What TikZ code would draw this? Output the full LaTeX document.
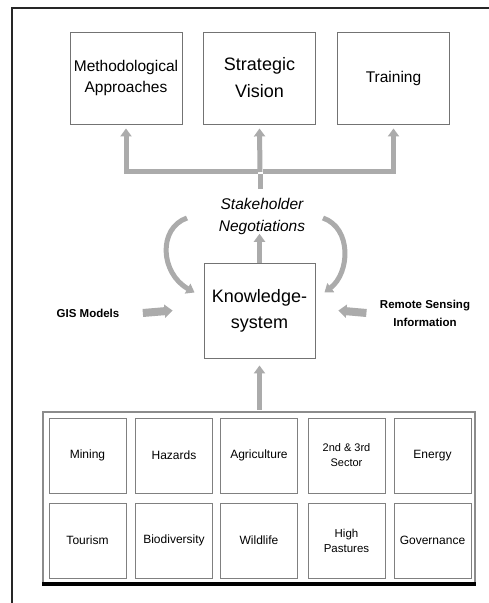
\documentclass[tikz,border=0pt]{standalone}
\usepackage{fontspec}
\setmainfont{Liberation Sans}
\usetikzlibrary{arrows.meta}

\tikzset{
  topbox/.style={draw=black!55, line width=0.9pt, minimum width=112pt, minimum height=92pt, align=center, inner sep=0pt},
  sectorbox/.style={draw=black!50, line width=0.9pt, minimum width=77pt, minimum height=75pt, align=center, inner sep=0pt, font=\fontsize{12}{15}\selectfont},
  flow/.style={draw=black!33, line width=5pt, -{Triangle[width=11pt,length=8pt]}},
  fatflow/.style={draw=black!33, line width=8pt, -{Triangle[width=13pt,length=8pt]}}
}

\begin{document}
\begin{tikzpicture}[x=1pt,y=1pt]
            \useasboundingbox (0,0) rectangle (488,603);
            % Define frame
            \draw[line width=1.6pt, black!85] (12,-2) -- (12,595) -- (490,595);

            % Define top boxes
            \node[topbox, font=\fontsize{15.5}{21}\selectfont] (meth) at (126,525) {Methodological\\Approaches};
            \node[topbox, font=\fontsize{18}{27}\selectfont] (strat) at (259.5,525) {Strategic\\Vision};
            \node[topbox, font=\fontsize{15.5}{20}\selectfont] (train) at (393.5,525) {Training};

            % Define middle part
            \node[align=center, font=\fontsize{15.5}{22}\selectfont\itshape] (stake) at (262,387) {Stakeholder\\Negotiations};
            \node[draw=black!55, line width=0.9pt, minimum width=111pt, minimum height=95pt, align=center, inner sep=0pt,
                  font=\fontsize{18}{26}\selectfont] (know) at (259.5,292.5) {Knowledge-\\system};
            \node[font=\fontsize{11.5}{14}\selectfont\bfseries] (gis) at (88,290) {GIS Models};
            \node[align=center, font=\fontsize{11.5}{18}\selectfont\bfseries] (remote) at (425,290) {Remote Sensing\\Information};
            \coordinate (bus) at (260,431);
            \coordinate (nl) at (187,385);
            \coordinate (nr) at (323,385);

            % Define sector panel
            \node[draw=black!45, line width=2pt, minimum width=432pt, minimum height=171pt] (panel) at (259,105.5) {};
            \draw[line width=3.5pt, black] (panel.south west) -- (panel.south east);
            \node[sectorbox] (mining) at (87.5,147.5) {Mining};
            \node[sectorbox] (hazards) at (174,147.5) {Hazards};
            \node[sectorbox] (agri) at (259,147.5) {Agriculture};
            \node[sectorbox, font=\fontsize{11}{15}\selectfont] (sector) at (346.5,147.5) {2nd \& 3rd\\Sector};
            \node[sectorbox] (energy) at (432.5,147.5) {Energy};
            \node[sectorbox] (tourism) at (87.5,62.5) {Tourism};
            \node[sectorbox] (bio) at (174,62.5) {Biodiversity};
            \node[sectorbox] (wild) at (259,62.5) {Wildlife};
            \node[sectorbox, font=\fontsize{11.5}{15}\selectfont] (pastures) at (346.5,62.5) {High\\Pastures};
            \node[sectorbox] (gov) at (432.5,62.5) {Governance};

            % Draw arrows
            \draw[draw=black!33, line width=5pt] ([yshift=5pt]stake.north -| bus) -- ([yshift=-2.5pt]bus);
            \draw[flow] ([xshift=-2.5pt]bus) -| ([yshift=-4pt]meth.south);
            \draw[flow] (bus) -- ([yshift=-4pt]strat.south);
            \draw[flow] ([xshift=2.5pt]bus) -| ([yshift=-4pt]train.south);
            \draw[flow] (know.north) -- ([yshift=4pt]stake.south -| know);
            \draw[flow] (nl) .. controls (158,375) and (160,330) .. ([xshift=-9pt,yshift=18pt]know.west);
            \draw[flow] (nr) .. controls (352,375) and (350,330) .. ([xshift=9pt,yshift=18pt]know.east);
            \draw[fatflow] ([xshift=20pt]gis.east) -- ([xshift=-31pt]know.west);
            \draw[fatflow] ([xshift=-10pt]remote.west) -- ([xshift=23pt]know.east);
            \draw[flow] ([yshift=1pt]panel.north -| know) -- ([yshift=-7pt]know.south);
        \end{tikzpicture}
\end{document}
